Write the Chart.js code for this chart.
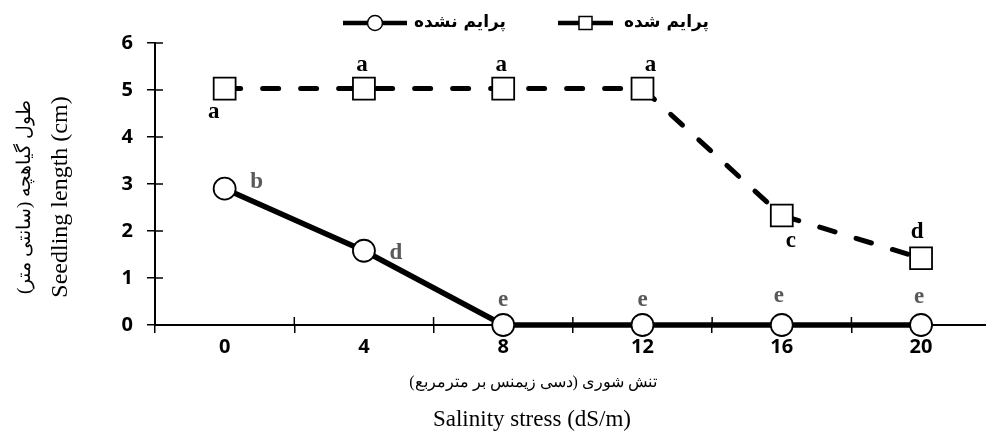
<!DOCTYPE html>
<html lang="fa">

<head>
    <meta charset="UTF-8">
    <meta name="viewport" content="width=device-width, initial-scale=1.0">
    <title>Seedling length</title>
    <style>
        body { margin: 0; background: #fff; overflow: hidden; }
        .wrap { width: 986px; height: 438px; overflow: hidden; }
    </style>
</head>

<body>
    <div class="wrap">
        <canvas id="lengthChart" width="1008" height="438"></canvas>
    </div>

    <script src="https://cdn.jsdelivr.net/npm/chart.js@4.4.4/dist/chart.umd.min.js"></script>
    <script>
        // data
        const salinity = ['0', '4', '8', '12', '16', '20'];
        const primed = [5.03, 5.03, 5.03, 5.03, 2.33, 1.42];
        const unprimed = [2.9, 1.58, 0, 0, 0, 0];
        const primedLetters = ['a', 'a', 'a', 'a', 'c', 'd'];
        const unprimedLetters = ['b', 'd', 'e', 'e', 'e', 'e'];
        const primedName = 'پرایم شده';
        const unprimedName = 'پرایم نشده';
        const yTitle = ['طول گیاهچه (سانتی متر)', 'Seedling length (cm)'];
        const xTitle = ['تنش شوری (دسی زیمنس بر مترمربع)', 'Salinity stress (dS/m)'];

        // where each letter sits relative to its marker (px)
        const primedOffsets = [[-11, 23], [-2, -24], [-2, -24], [8, -24], [9, 26], [-4, -26]];
        const unprimedOffsets = [[32, -7], [32, 2], [0, -25], [0, -25], [-3, -29], [-2, -28]];

        const serif = '"Liberation Serif", "DejaVu Serif", serif';
        const grey = '#595959';

        function stroke(ctx, x1, y1, x2, y2) {
            ctx.beginPath();
            ctx.moveTo(x1, y1);
            ctx.lineTo(x2, y2);
            ctx.stroke();
        }

        const extras = {
            id: 'extras',
            beforeDatasetsDraw(chart) {
                // inner half of the crossing tick marks
                const { ctx, chartArea, scales } = chart;
                ctx.save();
                ctx.strokeStyle = '#000';
                ctx.lineWidth = 1.5;
                scales.y.ticks.forEach(t => {
                    const py = scales.y.getPixelForValue(t.value);
                    stroke(ctx, chartArea.left, py, chartArea.left + 8, py);
                });
                for (let i = 0; i <= salinity.length; i++) {
                    const px = scales.x.getPixelForValue(i - 0.5);
                    stroke(ctx, px, chartArea.bottom, px, chartArea.bottom - 8);
                }
                ctx.restore();
            },
            afterDatasetsDraw(chart) {
                const { ctx } = chart;
                ctx.save();
                ctx.font = 'bold 23px ' + serif;
                ctx.textAlign = 'center';
                ctx.textBaseline = 'middle';
                const sets = [
                    [1, primedLetters, primedOffsets, '#000'],
                    [0, unprimedLetters, unprimedOffsets, grey]
                ];
                sets.forEach(([idx, letters, offs, color]) => {
                    const pts = chart.getDatasetMeta(idx).data;
                    ctx.fillStyle = color;
                    letters.forEach((l, i) => {
                        ctx.fillText(l, pts[i].x + offs[i][0], pts[i].y + offs[i][1]);
                    });
                });
                ctx.restore();
            },
            afterDraw(chart) {
                const { ctx } = chart;
                ctx.save();
                ctx.fillStyle = '#000';
                ctx.strokeStyle = '#000';

                // legend
                const ly = 23;
                ctx.lineWidth = 4.5;
                stroke(ctx, 343, ly, 407, ly);
                ctx.lineWidth = 1.5;
                ctx.fillStyle = '#fff';
                ctx.beginPath();
                ctx.arc(375, ly, 7.5, 0, Math.PI * 2);
                ctx.fill();
                ctx.stroke();
                ctx.lineWidth = 4.5;
                stroke(ctx, 558, ly, 613, ly);
                ctx.lineWidth = 1.5;
                ctx.fillRect(579, ly - 6.5, 13, 13);
                ctx.strokeRect(579, ly - 6.5, 13, 13);
                ctx.fillStyle = '#000';
                ctx.font = 'bold 17px "DejaVu Sans", sans-serif';
                ctx.textBaseline = 'middle';
                ctx.textAlign = 'left';
                ctx.fillText(unprimedName, 414, ly);
                ctx.fillText(primedName, 624, ly);

                // axis titles
                ctx.textAlign = 'center';
                ctx.font = '16px ' + serif;
                ctx.fillText(xTitle[0], 533, 383);
                ctx.font = '23px ' + serif;
                ctx.fillText(xTitle[1], 532, 420);

                ctx.translate(0, 197);
                ctx.rotate(-Math.PI / 2);
                ctx.font = '19px ' + serif;
                ctx.fillText(yTitle[0], 0, 25);
                ctx.font = '24px ' + serif;
                ctx.fillText(yTitle[1], 0, 61);
                ctx.restore();
            }
        };

        const tickFont = { family: '"Open Sans", sans-serif', size: 20, weight: 'bold' };

        const ctx = document.getElementById('lengthChart').getContext('2d');
        const lengthChart = new Chart(ctx, {
            type: 'line',
            data: {
                labels: salinity,
                datasets: [{
                    label: unprimedName,
                    data: unprimed,
                    clip: false,
                    borderColor: '#000',
                    borderWidth: 5.5,
                    pointStyle: 'circle',
                    pointRadius: 11,
                    pointBorderWidth: 1.8,
                    pointBackgroundColor: '#fff',
                    pointBorderColor: '#000',
                    tension: 0
                }, {
                    label: primedName,
                    data: primed,
                    clip: false,
                    borderColor: '#000',
                    borderWidth: 5,
                    borderDash: [16, 22],
                    borderCapStyle: 'round',
                    pointStyle: 'rect',
                    pointRadius: 15.5,
                    pointBorderWidth: 1.8,
                    pointBackgroundColor: '#fff',
                    pointBorderColor: '#000',
                    tension: 0
                }]
            },
            options: {
                responsive: false,
                animation: false,
                layout: { padding: { top: 43, left: 0, right: 0, bottom: 0 } },
                plugins: {
                    legend: { display: false },
                    tooltip: { enabled: false }
                },
                scales: {
                    x: {
                        offset: true,
                        grid: {
                            offset: true,
                            drawOnChartArea: false,
                            tickLength: 8,
                            color: '#000',
                            lineWidth: 1.5
                        },
                        border: { color: '#000', width: 2 },
                        ticks: {
                            color: '#000',
                            padding: 2,
                            font: tickFont
                        },
                        afterFit(scale) { scale.height = 113; }
                    },
                    y: {
                        min: 0,
                        max: 6,
                        grid: {
                            drawOnChartArea: false,
                            tickLength: 8,
                            color: '#000',
                            lineWidth: 1.5
                        },
                        border: { color: '#000', width: 2 },
                        ticks: {
                            stepSize: 1,
                            color: '#000',
                            padding: 14,
                            font: tickFont
                        },
                        afterFit(scale) { scale.width = 155; }
                    }
                }
            },
            plugins: [extras]
        });
    </script>
</body>

</html>
